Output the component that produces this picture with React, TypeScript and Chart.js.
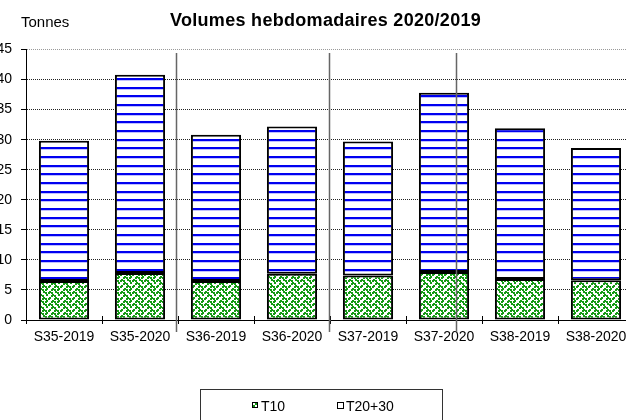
import React, { useEffect, useRef } from "react";
import { Chart, registerables } from "chart.js";

Chart.register(...registerables);

const categories = ["S35-2019", "S35-2020", "S36-2019", "S36-2020", "S37-2019", "S37-2020", "S38-2019", "S38-2020"];
const t10 = [6.5, 7.8, 6.5, 7.7, 7.4, 8.0, 6.8, 6.6];
const t2030 = [23.3, 33.0, 24.3, 24.5, 22.3, 29.8, 25.1, 22.0];
const yTicks = [0, 5, 10, 15, 20, 25, 30, 35, 40, 45];
const seriesNames = ["T10", "T20+30"];
const titleText = "Volumes hebdomadaires 2020/2019";
const unitText = "Tonnes";
// separators, in category-index units
const separatorsAt = [1.48, 3.49, 5.16];

const FONT = '"Liberation Sans", Arial, sans-serif';

function makeWeave(): CanvasPattern {
  const bits = [0x11, 0x2a, 0x44, 0xa2, 0x11, 0x28, 0x44, 0x8a];
  const big = document.createElement("canvas");
  big.width = 12;
  big.height = 12;
  const bctx = big.getContext("2d")!;
  bctx.fillStyle = "#ffffff";
  bctx.fillRect(0, 0, 12, 12);
  bctx.fillStyle = "#159a15";
  bits.forEach((row, r) => {
    for (let c = 0; c < 8; c++) {
      if (row & (0x80 >> c)) {
        const x0 = Math.floor(c * 1.5);
        const y0 = Math.floor(r * 1.5);
        bctx.fillRect(x0, y0, 2, 2);
        if (x0 + 2 > 12) bctx.fillRect(0, y0, x0 + 2 - 12, 2);
        if (y0 + 2 > 12) bctx.fillRect(x0, 0, 2, y0 + 2 - 12);
      }
    }
  });
  return bctx.createPattern(big, "repeat")!;
}

function makeLines(): CanvasPattern {
  const c = document.createElement("canvas");
  c.width = 4;
  c.height = 26;
  const x = c.getContext("2d")!;
  x.fillStyle = "#ffffff";
  x.fillRect(0, 0, 4, 26);
  [0, 9, 17].forEach((r) => {
    x.fillStyle = "#0000f0";
    x.fillRect(0, r, 4, 2);
    x.fillStyle = "#c0c0ff";
    x.fillRect(0, r + 2, 4, 1);
  });
  return x.createPattern(c, "repeat")!;
}

export default function App() {
  const ref = useRef<HTMLCanvasElement>(null);

  useEffect(() => {
    const canvas = ref.current!;
    const green = makeWeave();
    const blue = makeLines();

    const decor = {
      id: "decor",
      afterDatasetsDraw(chart: any) {
        const { ctx, scales } = chart;
        const xs = scales.x;
        const ys = scales.y;
        ctx.save();
        ctx.strokeStyle = "#000";
        ctx.lineWidth = 1;
        for (let i = 0; i <= categories.length; i++) {
          const px = Math.round(xs.getPixelForValue(i - 0.5)) + 0.5;
          ctx.beginPath();
          ctx.moveTo(px, ys.bottom);
          ctx.lineTo(px, ys.bottom - 4);
          ctx.stroke();
        }
        ctx.strokeStyle = "#666";
        ctx.lineWidth = 1.5;
        separatorsAt.forEach((v) => {
          const px = Math.round(xs.getPixelForValue(v)) + 0.5;
          ctx.beginPath();
          ctx.moveTo(px, ys.getPixelForValue(44.4));
          ctx.lineTo(px, ys.bottom + 12);
          ctx.stroke();
        });
        ctx.restore();
      },
      afterDraw(chart: any) {
        const { ctx } = chart;
        ctx.save();
        ctx.fillStyle = "#000";
        ctx.textBaseline = "alphabetic";
        ctx.textAlign = "left";
        ctx.font = `15px ${FONT}`;
        ctx.fillText(unitText, 21, 27);
        ctx.font = `bold 18px ${FONT}`;
        (ctx as any).letterSpacing = "0.3px";
        ctx.fillText(titleText, 170, 26);
        (ctx as any).letterSpacing = "0px";

        ctx.strokeStyle = "#333";
        ctx.lineWidth = 1;
        ctx.strokeRect(200.5, 389.5, 242, 40);
        ctx.font = `14px ${FONT}`;
        ctx.textBaseline = "middle";
        ctx.fillStyle = green;
        ctx.fillRect(252, 402, 6, 6);
        ctx.strokeStyle = "#000";
        ctx.strokeRect(252.5, 402.5, 5, 5);
        ctx.fillStyle = "#000";
        ctx.fillText(seriesNames[0], 261, 407);
        ctx.fillStyle = "#fff";
        ctx.fillRect(338, 402, 6, 6);
        ctx.strokeRect(337.5, 402.5, 6, 6);
        ctx.fillStyle = "#000";
        ctx.fillText(seriesNames[1], 346, 407);
        ctx.restore();
      },
    };

    const chart = new Chart(canvas, {
      type: "bar",
      data: {
        labels: categories,
        datasets: [
          {
            label: seriesNames[0],
            data: t10,
            backgroundColor: green,
            borderColor: "#000",
            borderWidth: 2,
            borderSkipped: false,
            barPercentage: 0.66,
            categoryPercentage: 1,
          },
          {
            label: seriesNames[1],
            data: t2030,
            backgroundColor: blue,
            borderColor: "#000",
            borderWidth: 2,
            borderSkipped: false,
            barPercentage: 0.66,
            categoryPercentage: 1,
          },
        ],
      },
      options: {
        responsive: false,
        animation: false,
        devicePixelRatio: 1,
        layout: { padding: { top: 49.5, right: 6, left: 0, bottom: 0 } },
        plugins: {
          legend: { display: false },
          title: { display: false },
          tooltip: { enabled: false },
        },
        scales: {
          x: {
            stacked: true,
            grid: {
              display: true,
              drawOnChartArea: false,
              drawTicks: true,
              tickLength: 4,
              color: "#000",
              offset: true,
            },
            border: { display: true, color: "#000", width: 1 },
            ticks: {
              color: "#000",
              font: { family: FONT, size: 14 },
              padding: 5,
              maxRotation: 0,
              autoSkip: false,
            },
            afterFit: (s: any) => {
              s.height = 100;
            },
          },
          y: {
            stacked: true,
            min: 0,
            max: 45,
            afterBuildTicks: (s: any) => {
              s.ticks = yTicks.map((v) => ({ value: v }));
            },
            ticks: {
              color: "#000",
              font: { family: FONT, size: 14 },
              padding: 9,
            },
            grid: {
              color: (c: any) => (c.tick && c.tick.value === 45 ? "#999" : "#222"),
              tickColor: "#000",
              tickLength: 5,
            },
            border: { display: true, color: "#000", width: 1, dash: [1, 1] },
            afterFit: (s: any) => {
              s.width = 26;
            },
          },
        },
      },
      plugins: [decor],
    });
    return () => chart.destroy();
  }, []);

  return (
    <div
      style={{
        position: "fixed",
        left: 0,
        top: 0,
        width: 626,
        height: 420,
        overflow: "hidden",
        background: "#fff",
      }}
    >
      <canvas ref={ref} width={640} height={420} style={{ display: "block" }} />
    </div>
  );
}
